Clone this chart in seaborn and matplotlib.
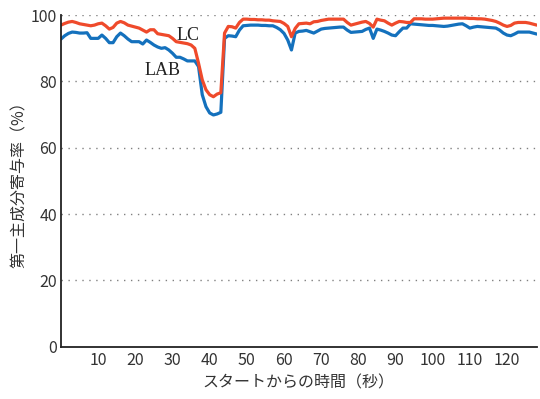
import numpy as np
import pandas as pd
import matplotlib
matplotlib.use("Agg")
import matplotlib.pyplot as plt
import seaborn as sns

seconds = list(range(0, 129))

lc = [97.0, 97.5, 97.9, 98.1, 97.8, 97.4, 97.2, 97.0, 96.8, 97.0,
      97.4, 97.6, 96.8, 95.8, 96.3, 97.6, 98.1, 97.7, 97.0, 96.7,
      96.4, 96.1, 95.5, 94.9, 95.6, 95.6, 94.4, 94.2, 94.0, 93.8,
      93.0, 92.0, 91.8, 91.6, 91.4, 91.0, 90.0, 85.5, 80.5, 77.5,
      76.0, 75.4, 76.2, 76.6, 94.6, 96.6, 96.5, 96.1, 97.8, 98.8,
      98.8, 98.7, 98.7, 98.6, 98.6, 98.5, 98.5, 98.3, 98.2, 98.1,
      97.5, 96.6, 93.5, 96.0, 97.4, 97.5, 97.6, 97.4, 98.0, 98.1,
      98.4, 98.6, 98.8, 98.8, 98.8, 98.8, 98.8, 97.8, 97.0, 97.3,
      97.6, 97.9, 98.1, 97.5, 96.4, 98.8, 98.5, 98.3, 97.6, 97.0,
      97.6, 98.1, 98.0, 97.8, 97.8, 98.9, 98.9, 98.9, 98.8, 98.8,
      98.8, 98.9, 99.0, 99.1, 99.1, 99.1, 99.1, 99.1, 99.1, 99.1,
      99.0, 99.0, 98.9, 98.9, 98.8, 98.6, 98.4, 98.1, 97.6, 97.0,
      96.6, 96.9, 97.6, 97.8, 97.8, 97.8, 97.6, 97.3, 97.0]

lab = [92.8, 93.8, 94.5, 94.9, 94.8, 94.6, 94.6, 94.7, 93.0, 93.0,
       93.0, 94.0, 93.0, 91.7, 91.7, 93.5, 94.6, 93.8, 92.8, 92.0,
       92.0, 92.0, 91.3, 92.5, 91.8, 91.0, 90.4, 90.0, 90.2, 89.5,
       88.5, 87.3, 87.3, 86.8, 86.2, 86.2, 86.2, 84.5, 76.0, 72.4,
       70.5, 69.9, 70.2, 70.7, 93.0, 93.8, 93.7, 93.5, 95.5, 96.8,
       96.9, 97.0, 97.0, 97.0, 96.9, 96.9, 96.8, 96.8, 96.3, 95.6,
       94.5, 92.5, 89.5, 94.6, 95.1, 95.2, 95.4, 95.0, 94.6, 95.2,
       95.8, 96.0, 96.1, 96.2, 96.3, 96.4, 96.4, 95.5, 94.8, 94.9,
       95.0, 95.1, 95.7, 96.1, 93.0, 95.8, 95.5, 95.1, 94.6, 94.0,
       93.8, 95.0, 96.1, 96.1, 97.4, 97.3, 97.2, 97.1, 97.0, 96.9,
       96.9, 96.8, 96.7, 96.6, 96.7, 96.9, 97.1, 97.3, 97.4, 96.8,
       96.1, 96.4, 96.6, 96.5, 96.4, 96.3, 96.2, 96.1, 95.5, 94.6,
       94.0, 93.8, 94.3, 94.9, 94.9, 94.9, 94.9, 94.6, 94.3]

x_ticks = [10, 20, 30, 40, 50, 60, 70, 80, 90, 100, 110, 120]
y_ticks = [0, 20, 40, 60, 80, 100]
series_names = ["LC", "LAB"]
x_label = "スタートからの時間（秒）"
y_label = "第一主成分寄与率（%）"

df = pd.DataFrame({
    "t": seconds * 2,
    "v": lc + lab,
    "series": [series_names[0]] * len(lc) + [series_names[1]] * len(lab),
})

sns.set_style("white")
plt.rcParams["font.family"] = ["Noto Sans CJK JP", "DejaVu Sans"]

fig = plt.figure(figsize=(5.4, 3.99), dpi=100)
ax = fig.add_axes([0.113, 0.131, 0.881, 0.831])

sns.lineplot(data=df, x="t", y="v", hue="series",
             palette={"LC": "#ef4a2b", "LAB": "#1471bd"},
             hue_order=["LAB", "LC"], linewidth=2.3, ax=ax, legend=False)

ax.set_xlim(0, 128)
ax.set_ylim(0, 100)
ax.set_xticks(x_ticks)
ax.set_yticks(y_ticks)
ax.tick_params(axis="x", direction="in", length=5, width=1.0, colors="#222222",
               labelsize=11.5, labelcolor="#333333", pad=4)
ax.tick_params(axis="y", length=0, labelsize=11.5, labelcolor="#333333", pad=3)
for y in y_ticks[1:]:
    ax.axhline(y, color="#808080", linestyle=(0, (1, 4)), linewidth=1.0, zorder=0)

for s in ["top", "right"]:
    ax.spines[s].set_visible(False)
for s in ["left", "bottom"]:
    ax.spines[s].set_color("#222222")
    ax.spines[s].set_linewidth(1.3)

ax.set_xlabel(x_label, fontsize=11.5, color="#333333", labelpad=4)
ax.set_ylabel(y_label, fontsize=11.5, color="#333333", labelpad=2)

ax.text(34.2, 94.0, "LC", fontfamily="Liberation Serif", fontsize=13, color="#222222",
        ha="center", va="center")
ax.text(27.3, 83.3, "LAB", fontfamily="Liberation Serif", fontsize=13, color="#222222",
        ha="center", va="center")

fig.savefig("out.png", dpi=100)
